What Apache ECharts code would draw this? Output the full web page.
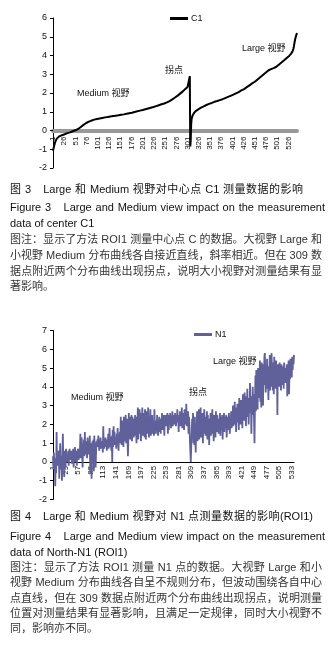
<!DOCTYPE html>
<html>
<head>
<meta charset="utf-8">
<script src="https://cdn.jsdelivr.net/npm/echarts@6/dist/echarts.min.js"></script>
<style>
body{margin:0;background:#fff;}
#wrap{position:relative;width:330px;height:653px;overflow:hidden;}
#main{position:absolute;left:0;top:0;width:330px;height:653px;}
.cap{position:absolute;left:10px;font-family:"Liberation Sans","Noto Sans CJK SC",sans-serif;font-size:11px;line-height:14px;color:#111;}
.j{text-align:justify;text-align-last:justify;}
.note{color:#333;}
</style>
</head>
<body>
<div id="wrap">
<div id="main"></div>
<div class="cap j" style="top:182px;width:293px;">图 3　Large 和 Medium 视野对中心点 C1 测量数据的影响</div>
<div class="cap j" style="top:200px;width:315px;">Figure 3　Large and Medium view impact on the measurement</div>
<div class="cap" style="top:216px;">data of center C1</div>
<div class="cap j note" style="top:232px;width:312px;">图注：显示了方法 ROI1 测量中心点 C 的数据。大视野 Large 和</div>
<div class="cap j note" style="top:248px;width:312px;">小视野 Medium 分布曲线各自接近直线，斜率相近。但在 309 数</div>
<div class="cap j note" style="top:264px;width:312px;">据点附近两个分布曲线出现拐点，说明大小视野对测量结果有显</div>
<div class="cap note" style="top:279px;">著影响。</div>
<div class="cap j" style="top:509px;width:303px;">图 4　Large 和 Medium 视野对 N1 点测量数据的影响(ROI1)</div>
<div class="cap j" style="top:529px;width:315px;">Figure 4　Large and Medium view impact on the measurement</div>
<div class="cap" style="top:545px;">data of North-N1 (ROI1)</div>
<div class="cap j note" style="top:560px;width:312px;">图注：显示了方法 ROI1 测量 N1 点的数据。大视野 Large 和小</div>
<div class="cap j note" style="top:575px;width:312px;">视野 Medium 分布曲线各自呈不规则分布，但波动围绕各自中心</div>
<div class="cap j note" style="top:591px;width:312px;">点直线，但在 309 数据点附近两个分布曲线出现拐点，说明测量</div>
<div class="cap j note" style="top:606px;width:312px;">位置对测量结果有显著影响，且满足一定规律，同时大小视野不</div>
<div class="cap note" style="top:621px;">同，影响亦不同。</div>
</div>
<script>
// Figure 3: center point C1 (sorted curve, break near point 309)
var c1_values = [
-1.08,-0.98,-0.88,-0.78,-0.68,-0.61,-0.55,-0.50,-0.46,-0.42,
-0.39,-0.37,-0.35,-0.33,-0.31,-0.30,-0.29,-0.28,-0.27,-0.26,
-0.25,-0.24,-0.23,-0.22,-0.21,-0.21,-0.20,-0.19,-0.18,-0.17,
-0.16,-0.15,-0.14,-0.14,-0.13,-0.12,-0.11,-0.11,-0.10,-0.09,
-0.08,-0.07,-0.06,-0.05,-0.04,-0.04,-0.03,-0.02,-0.01,0.00,
0.01,0.02,0.03,0.04,0.05,0.07,0.08,0.09,0.11,0.13,
0.15,0.17,0.19,0.21,0.23,0.25,0.27,0.28,0.30,0.32,
0.34,0.35,0.37,0.38,0.40,0.41,0.42,0.44,0.45,0.46,
0.47,0.48,0.49,0.50,0.51,0.52,0.53,0.54,0.55,0.56,
0.56,0.57,0.58,0.58,0.59,0.59,0.60,0.61,0.61,0.62,
0.62,0.63,0.63,0.64,0.64,0.65,0.65,0.65,0.66,0.66,
0.67,0.67,0.68,0.68,0.69,0.69,0.70,0.70,0.71,0.71,
0.71,0.72,0.72,0.73,0.73,0.73,0.74,0.74,0.75,0.75,
0.75,0.76,0.76,0.77,0.77,0.77,0.78,0.78,0.79,0.79,
0.79,0.80,0.80,0.80,0.81,0.81,0.81,0.82,0.82,0.82,
0.83,0.83,0.84,0.84,0.84,0.85,0.85,0.86,0.86,0.87,
0.87,0.87,0.88,0.88,0.89,0.89,0.90,0.90,0.91,0.91,
0.92,0.92,0.93,0.93,0.94,0.95,0.95,0.96,0.96,0.97,
0.97,0.98,0.99,0.99,1.00,1.01,1.01,1.02,1.03,1.03,
1.04,1.04,1.05,1.05,1.06,1.06,1.07,1.07,1.08,1.08,
1.09,1.10,1.10,1.11,1.12,1.12,1.13,1.14,1.14,1.15,
1.16,1.16,1.17,1.18,1.18,1.19,1.20,1.21,1.21,1.22,
1.23,1.23,1.24,1.25,1.25,1.26,1.27,1.28,1.29,1.29,
1.30,1.31,1.32,1.33,1.34,1.34,1.35,1.36,1.37,1.38,
1.39,1.39,1.40,1.41,1.42,1.42,1.43,1.44,1.44,1.45,
1.46,1.47,1.48,1.49,1.50,1.51,1.52,1.53,1.54,1.56,
1.57,1.59,1.60,1.62,1.63,1.65,1.66,1.67,1.69,1.70,
1.72,1.74,1.76,1.78,1.79,1.81,1.83,1.85,1.86,1.88,
1.90,1.92,1.94,1.96,1.98,2.00,2.02,2.04,2.06,2.08,
2.10,2.12,2.14,2.17,2.19,2.21,2.23,2.25,2.28,2.30,
2.32,2.35,2.37,2.39,2.42,2.90,-0.85,-0.55,0.30,0.62,
0.72,0.79,0.84,0.88,0.92,0.95,0.98,1.00,1.03,1.05,
1.07,1.08,1.10,1.12,1.13,1.15,1.16,1.18,1.19,1.20,
1.22,1.23,1.24,1.26,1.27,1.28,1.29,1.30,1.32,1.33,
1.34,1.35,1.36,1.37,1.38,1.39,1.40,1.41,1.42,1.43,
1.44,1.45,1.46,1.47,1.47,1.48,1.49,1.50,1.51,1.52,
1.53,1.53,1.54,1.55,1.56,1.57,1.57,1.58,1.59,1.60,
1.61,1.61,1.62,1.63,1.64,1.64,1.65,1.66,1.67,1.68,
1.69,1.70,1.71,1.72,1.73,1.74,1.75,1.76,1.77,1.78,
1.79,1.80,1.81,1.82,1.83,1.84,1.85,1.86,1.87,1.88,
1.89,1.90,1.91,1.92,1.94,1.95,1.96,1.97,1.98,1.99,
2.00,2.01,2.03,2.04,2.05,2.07,2.08,2.10,2.11,2.13,
2.14,2.15,2.16,2.17,2.18,2.20,2.21,2.23,2.24,2.26,
2.28,2.29,2.31,2.33,2.35,2.36,2.38,2.40,2.41,2.43,
2.45,2.46,2.48,2.50,2.51,2.52,2.53,2.55,2.56,2.58,
2.60,2.62,2.64,2.66,2.68,2.70,2.72,2.74,2.76,2.78,
2.80,2.82,2.84,2.86,2.88,2.90,2.92,2.94,2.96,2.98,
3.00,3.02,3.04,3.06,3.08,3.10,3.12,3.14,3.16,3.18,
3.20,3.22,3.23,3.24,3.25,3.26,3.27,3.28,3.29,3.30,
3.31,3.32,3.33,3.34,3.35,3.36,3.37,3.38,3.40,3.42,
3.44,3.46,3.48,3.50,3.52,3.54,3.56,3.58,3.60,3.62,
3.64,3.66,3.68,3.70,3.72,3.74,3.76,3.79,3.81,3.83,
3.85,3.87,3.89,3.91,3.93,3.95,3.97,3.99,4.01,4.04,
4.07,4.10,4.13,4.17,4.22,4.28,4.36,4.48,4.62,4.76,
4.88,4.98,5.06,5.13,5.20
];

// Figure 4: point N1 (noisy)
var n1_values = [
0.3,-0.4,0.5,-0.2,0.2,-1.3,0.1,-0.6,1.6,0.0,
-0.2,0.4,0.2,0.6,-0.9,0.2,1.0,-0.4,0.3,0.1,
-1.0,0.5,1.5,-0.2,0.4,-0.8,0.6,0.1,-0.3,0.7,
0.2,0.0,0.4,0.0,0.6,-0.2,0.3,0.7,0.1,0.5,
0.1,0.6,-0.1,0.4,0.2,0.7,-0.3,0.5,0.3,0.8,
0.0,0.6,0.3,-0.2,0.5,0.4,0.7,0.1,0.5,0.2,
0.6,1.5,0.2,0.8,1.3,0.4,-0.3,1.0,0.5,1.2,
0.3,1.6,0.4,0.9,1.1,0.8,0.2,1.3,0.6,1.0,
0.4,0.9,1.4,-0.6,1.0,0.5,-0.9,0.8,1.1,0.6,
1.2,-0.5,1.4,0.7,1.0,-0.3,0.6,1.1,0.9,1.2,
0.8,1.4,1.0,0.6,1.2,0.9,1.3,0.7,1.1,0.9,
1.1,0.5,1.9,1.0,0.7,1.2,0.9,1.3,0.8,1.1,
0.6,1.2,0.9,1.5,0.7,1.1,1.8,0.8,1.3,1.0,
0.6,1.4,0.0,1.7,0.8,1.9,1.0,1.6,0.9,1.3,
1.1,0.7,1.5,1.0,1.8,1.2,0.6,1.4,1.1,1.6,
1.0,2.4,1.3,0.9,2.2,1.2,1.6,0.8,2.4,1.1,
1.9,1.3,2.5,1.0,1.7,2.3,1.2,0.3,1.4,2.6,
1.5,2.4,1.2,2.2,1.6,2.5,1.1,2.4,1.8,2.3,
1.3,2.1,1.7,2.5,1.4,2.2,1.0,2.4,1.6,2.9,
1.2,2.4,1.9,2.8,1.5,2.3,1.1,2.6,1.8,2.9,
1.4,2.2,1.7,2.6,1.3,2.8,2.0,1.2,2.7,1.6,
2.3,1.5,2.9,1.9,1.3,2.4,1.7,2.8,1.4,2.1,
1.8,2.5,1.5,2.2,1.9,1.4,2.8,1.6,2.0,1.5,
2.2,1.7,2.5,1.8,1.4,2.1,1.9,2.4,1.6,2.0,
1.5,2.3,1.8,2.6,1.7,2.2,2.0,2.5,1.4,2.3,
2.1,2.5,1.9,2.4,2.2,2.6,1.5,2.3,1.7,2.5,
2.0,2.6,2.2,1.8,2.4,2.1,2.7,1.9,2.5,2.2,
2.4,2.0,2.6,2.3,1.9,2.5,2.1,2.8,2.2,2.4,
1.6,2.5,2.1,2.7,1.9,2.4,2.2,2.9,1.8,2.5,
2.1,2.6,1.7,2.8,2.0,2.5,2.3,3.1,1.9,2.6,
2.2,2.7,1.5,2.4,2.0,1.2,0.6,0.0,0.8,1.4,
2.3,1.6,2.6,1.0,2.1,0.9,2.4,1.3,0.5,2.0,
1.5,2.7,1.1,2.2,1.6,2.8,1.2,2.4,1.8,2.9,
1.3,2.3,1.7,2.6,1.0,2.2,1.5,2.8,1.9,2.4,
1.4,2.1,1.8,2.7,1.2,2.5,1.6,2.3,0.9,2.2,
1.7,2.6,1.4,2.4,2.0,2.8,1.5,2.3,1.1,2.5,
1.8,2.4,1.3,2.7,2.1,1.6,2.5,1.9,2.3,1.5,
2.2,1.8,2.6,1.4,2.4,2.0,1.7,2.5,1.2,2.3,
1.9,2.6,1.6,2.4,2.1,1.8,2.5,1.3,2.2,1.9,
2.4,1.7,2.6,2.0,1.5,2.3,2.1,2.7,1.8,2.4,
2.2,3.0,1.9,2.6,2.3,3.2,2.0,2.7,1.6,2.9,
2.4,3.1,2.1,2.8,1.7,3.4,2.3,2.9,2.0,3.3,
2.5,3.0,1.8,3.6,2.6,3.2,2.2,3.7,2.8,3.3,
1.9,3.5,2.7,3.9,2.4,3.4,2.0,3.1,2.6,4.2,
2.9,3.5,1.5,3.2,2.5,4.0,3.0,3.6,2.2,1.0,
3.1,4.6,2.7,4.9,3.5,4.3,2.8,5.0,3.4,4.5,
3.8,5.4,3.2,4.7,2.9,5.3,3.6,4.4,3.0,5.2,
4.1,5.6,5.8,4.8,3.7,5.0,4.2,5.5,3.9,4.6,
3.3,5.1,4.4,5.7,3.8,4.9,4.0,5.8,4.5,5.3,
3.8,4.7,3.6,5.6,4.3,5.0,3.9,5.4,4.2,4.8,
2.5,5.2,4.4,4.9,4.0,5.3,4.6,5.0,3.8,5.2,
4.3,4.8,4.1,5.1,3.9,5.3,4.5,4.9,4.2,5.0,
4.6,5.2,3.5,4.7,4.1,5.4,3.6,5.0,4.4,5.5,
4.8,5.3,4.5,5.6,4.9,5.4,5.2,5.7
];

// category names are just the data point numbers
var c1_points = [];
for (var i = 1; i <= c1_values.length; i++) { c1_points.push(String(i)); }
var n1_points = [];
for (var i = 1; i <= n1_values.length; i++) { n1_points.push(String(i)); }

var font_main = "'Liberation Sans','Noto Sans CJK SC',sans-serif";

var chart = echarts.init(document.getElementById("main"));
var option = {
	animation: false,
	backgroundColor: '#fff',
	textStyle: {fontFamily: font_main},
	grid: [
		{left: 53, top: 18, width: 244, height: 150, containLabel: false, outerBoundsMode: 'none'},
		{left: 53, top: 330.5, width: 241, height: 169, containLabel: false, outerBoundsMode: 'none'}
	],
	legend: [
		{
			data: ['C1'], left: 165, top: 9, icon: 'rect', itemWidth: 18, itemHeight: 3, itemGap: 5,
			textStyle: {fontSize: 9, color: '#111', fontFamily: font_main, padding: [0, 0, 0, -2]}
		},
		{
			data: ['N1'], left: 189, top: 325, icon: 'rect', itemWidth: 18, itemHeight: 3,
			textStyle: {fontSize: 9, color: '#111', fontFamily: font_main, padding: [0, 0, 0, -2]}
		}
	],
	xAxis: [
		{
			// axis sits on y = 0 (37.5px above the grid bottom)
			gridIndex: 0, type: 'category', data: c1_points, boundaryGap: false,
			position: 'bottom', offset: -37.5,
			axisLine: {onZero: false, lineStyle: {color: '#999', width: 4}},
			axisTick: {show: false},
			axisLabel: {rotate: 90, interval: 24, fontSize: 8, color: '#111', margin: 6, fontFamily: font_main}
		},
		{
			gridIndex: 1, type: 'category', data: n1_points, boundaryGap: false,
			position: 'bottom', offset: -37.6,
			axisLine: {onZero: false, lineStyle: {color: '#000', width: 1}},
			axisTick: {show: false},
			axisLabel: {rotate: 90, interval: 27, fontSize: 8, color: '#111', margin: 4, fontFamily: font_main}
		}
	],
	yAxis: [
		{
			gridIndex: 0, type: 'value', min: -2, max: 6, interval: 1,
			axisLine: {show: true, lineStyle: {color: '#000', width: 1}},
			axisTick: {show: true, length: 3, lineStyle: {color: '#000'}},
			splitLine: {show: false},
			axisLabel: {fontSize: 9, color: '#111', margin: 6, fontFamily: font_main}
		},
		{
			gridIndex: 1, type: 'value', min: -2, max: 7, interval: 1,
			axisLine: {show: true, lineStyle: {color: '#000', width: 1}},
			axisTick: {show: true, length: 3, lineStyle: {color: '#000'}},
			splitLine: {show: false},
			axisLabel: {fontSize: 9, color: '#111', margin: 6, fontFamily: font_main}
		}
	],
	series: [
		{
			name: 'C1', type: 'line', xAxisIndex: 0, yAxisIndex: 0,
			data: c1_values, showSymbol: false, symbol: 'none',
			lineStyle: {color: '#000', width: 2}, itemStyle: {color: '#000'}
		},
		{
			name: 'N1', type: 'line', xAxisIndex: 1, yAxisIndex: 1,
			data: n1_values, showSymbol: false, symbol: 'none',
			lineStyle: {color: '#60609a', width: 1.8}, itemStyle: {color: '#60609a'}
		}
	],
	graphic: [
		{type: 'text', x: 77, y: 93.5, style: {text: 'Medium 视野', font: "9px " + font_main, fill: '#111', verticalAlign: 'middle'}},
		{type: 'text', x: 165, y: 71, style: {text: '拐点', font: "9px " + font_main, fill: '#111', verticalAlign: 'middle'}},
		{type: 'text', x: 242, y: 48.5, style: {text: 'Large 视野', font: "9px " + font_main, fill: '#111', verticalAlign: 'middle'}},
		{type: 'text', x: 71, y: 397.5, style: {text: 'Medium 视野', font: "9px " + font_main, fill: '#111', verticalAlign: 'middle'}},
		{type: 'text', x: 189, y: 392.5, style: {text: '拐点', font: "9px " + font_main, fill: '#111', verticalAlign: 'middle'}},
		{type: 'text', x: 213, y: 362, style: {text: 'Large 视野', font: "9px " + font_main, fill: '#111', verticalAlign: 'middle'}}
	]
};
chart.setOption(option);
window.addEventListener("resize", function(){
	chart.resize();
});
</script>
</body>
</html>
